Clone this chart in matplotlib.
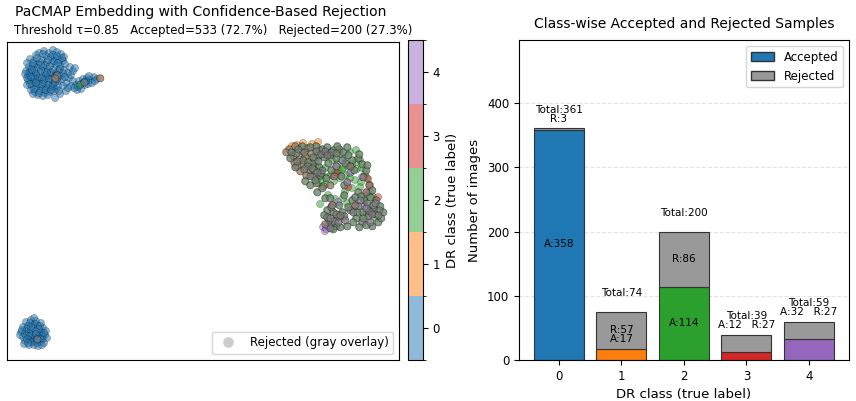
import numpy as np
import matplotlib.pyplot as plt
from matplotlib.colors import ListedColormap, BoundaryNorm
from matplotlib.lines import Line2D
from matplotlib.patches import Patch

# ---- data -------------------------------------------------------------
classes = [0, 1, 2, 3, 4]
accepted = [358, 17, 114, 12, 32]
rejected = [3, 57, 86, 27, 27]
threshold = 0.85

class_colors = ['#1f77b4', '#ff7f0e', '#2ca02c', '#d62728', '#9467bd']

# embedding points (screen-like units, y grows downward)
c0_acc = [
    (39, 53), (44, 51), (49, 53), (53, 50), (57, 52), (61, 54), (64, 57), (46, 56), (51, 57),
    (55, 58), (59, 60), (63, 61), (42, 60), (47, 62), (52, 63), (56, 65), (60, 66), (65, 64),
    (37, 64), (34, 61), (30, 59), (27, 63), (29, 67), (33, 66), (38, 68), (43, 67), (48, 69),
    (53, 70), (26, 71), (31, 72), (35, 71), (40, 73), (45, 72), (50, 74), (56, 73), (59, 71),
    (28, 76), (33, 77), (37, 76), (42, 78), (47, 77), (52, 79), (61, 76), (30, 81), (34, 82),
    (39, 81), (44, 83), (49, 82), (53, 84), (58, 81), (27, 85), (32, 86), (36, 87), (41, 86),
    (46, 88), (51, 87), (56, 89), (31, 90), (35, 92), (40, 91), (45, 93), (50, 92), (38, 95),
    (43, 96), (48, 95), (33, 94), (28, 80), (25, 74), (64, 70), (68, 73), (73, 71), (69, 78),
    (73, 81), (76, 85), (79, 81), (83, 79), (87, 78), (90, 80), (94, 77), (97, 79), (85, 85),
    (81, 89), (77, 90), (88, 84), (71, 86), (66, 91), (60, 94), (55, 98), (66, 83), (62, 79),
    (70, 67), (75, 68), (92, 83), (36, 55), (58, 86), (54, 91),
    (31, 69), (36, 74), (41, 70), (46, 75), (51, 72), (55, 76), (39, 78), (44, 80), (49, 79),
    (35, 79), (30, 84), (38, 84), (43, 89), (48, 85), (53, 86), (34, 89), (39, 93), (46, 90),
    (29, 73), (33, 63), (40, 62), (45, 65), (50, 66), (54, 61), (58, 63), (62, 58), (48, 60),
    (43, 54), (53, 55), (57, 56), (37, 58), (32, 70), (27, 78), (55, 82), (51, 90), (42, 84),
    (47, 73), (36, 83), (31, 77), (41, 65), (60, 69), (57, 79), (63, 73), (65, 77), (71, 75),
    (78, 87), (74, 88), (81, 84), (86, 81), (95, 81), (89, 76), (68, 88), (63, 86), (59, 91),
    # bottom-left blob
    (26, 322), (31, 320), (36, 321), (41, 323), (23, 327), (28, 326), (33, 325), (38, 326),
    (43, 328), (46, 331), (21, 332), (26, 331), (31, 330), (36, 331), (41, 332), (45, 335),
    (23, 337), (28, 336), (33, 335), (38, 337), (43, 339), (25, 341), (30, 340), (35, 341),
    (40, 342), (29, 345), (34, 345), (38, 346), (20, 335), (47, 338), (34, 318), (29, 333),
    (39, 334), (32, 338), (27, 329), (42, 336), (24, 344), (44, 343),
    (30, 323), (35, 324), (40, 326), (25, 334), (30, 336), (35, 338), (40, 339), (27, 339),
    (32, 342), (37, 343), (44, 333), (22, 330), (39, 329), (33, 328), (28, 343), (42, 345),
    (36, 334), (31, 327),
]
c0_rej = [(57, 75), (84, 82), (37, 339)]

c1_acc = [(303, 143), (312, 144), (318, 142), (297, 145), (308, 158), (292, 146)]
c1_rej = [
    (55, 78), (100, 78),
    (289, 149), (295, 146), (301, 151), (307, 148), (293, 156), (299, 159), (305, 156),
    (311, 153), (303, 164), (309, 170), (297, 166), (315, 160), (286, 152), (313, 176),
    (319, 150), (306, 175), (316, 183), (323, 186), (300, 171), (294, 162), (320, 175),
    (330, 185), (325, 224), (331, 224), (338, 217),
]

c2_acc = [
    (80, 85),
    (318, 183), (322, 180), (327, 177), (331, 175), (335, 172), (339, 170), (343, 168),
    (348, 166), (352, 164), (356, 162), (360, 160), (326, 184), (334, 181), (340, 178),
    (346, 175), (351, 172), (357, 169), (362, 168), (365, 174), (368, 179), (361, 182),
    (355, 180), (350, 178), (342, 170), (337, 164), (332, 160), (345, 158), (350, 152),
    (356, 150), (340, 154), (320, 176), (325, 168), (315, 166), (370, 192), (366, 196),
    (373, 197), (345, 191), (352, 188), (360, 187), (364, 215), (376, 218), (347, 203),
    (335, 199), (343, 198), (320, 204), (328, 195),
]
c2_rej = [
    (316, 146), (322, 149), (327, 147), (333, 150), (339, 149), (318, 155), (324, 157),
    (330, 155), (312, 163), (319, 167), (314, 170), (321, 173), (326, 178), (331, 170),
    (336, 158), (343, 152), (348, 155), (352, 160), (358, 158), (345, 163), (354, 170),
    (362, 164), (366, 170), (305, 181), (310, 185), (317, 192), (322, 170), (296, 153),
    (302, 146), (328, 163), (341, 176), (344, 185), (363, 177), (369, 185), (358, 192),
    (352, 200), (358, 206), (364, 200), (370, 197), (376, 200), (362, 212), (368, 216),
    (374, 209), (380, 206), (356, 218), (362, 222), (350, 210), (378, 222), (372, 226),
    (383, 212), (327, 210), (333, 212), (329, 220), (336, 226), (342, 212), (339, 205),
    (324, 215), (333, 229), (347, 226), (325, 198), (330, 198), (295, 167),
    (291, 152), (298, 149), (304, 152), (310, 147), (316, 151), (321, 154), (325, 151),
    (331, 152), (336, 153), (290, 158), (297, 161), (303, 160), (308, 162), (313, 157),
    (318, 161), (307, 166), (312, 168), (317, 172), (304, 169), (310, 176), (315, 180),
    (322, 188), (355, 197), (361, 196), (367, 203), (373, 205), (379, 210), (357, 212),
    (363, 218), (369, 211), (375, 214), (353, 222), (366, 225), (381, 218), (359, 227),
    (331, 207), (336, 214), (327, 217), (344, 216), (334, 221), (340, 227), (330, 228),
    (348, 207), (344, 195), (372, 190), (367, 165), (359, 154), (347, 147), (337, 146),
]

c3_acc = [(337, 173), (348, 187), (367, 178), (370, 185), (378, 197)]
c3_rej = [(334, 176), (350, 166), (366, 192), (355, 205), (372, 214), (340, 215), (332, 205),
          (327, 155)]

c4_acc = [(323, 227), (326, 229), (328, 226), (325, 231), (338, 202), (362, 177), (350, 173),
          (327, 153), (320, 173), (365, 206), (371, 211)]
c4_rej = [(336, 166), (342, 160), (347, 182), (360, 200), (366, 208), (375, 203), (353, 212),
          (345, 220), (338, 222), (330, 218), (370, 222), (378, 215)]

# ---- assemble -----------------------------------------------------------
acc_sets = [c0_acc, c1_acc, c2_acc, c3_acc, c4_acc]
rej_sets = [c0_rej, c1_rej, c2_rej, c3_rej, c4_rej]

xs, ys, labels, is_rej = [], [], [], []
for cls, (acc, rej) in enumerate(zip(acc_sets, rej_sets)):
    for p in acc:
        xs.append(p[0]); ys.append(p[1]); labels.append(cls); is_rej.append(False)
    for p in rej:
        xs.append(p[0]); ys.append(p[1]); labels.append(cls); is_rej.append(True)
xs = np.array(xs, dtype=float)
ys = np.array(ys, dtype=float)
labels = np.array(labels)
is_rej = np.array(is_rej)

n_acc = sum(accepted)
n_rej = sum(rejected)
n_all = n_acc + n_rej
total = [a + r for a, r in zip(accepted, rejected)]

# ---- figure -------------------------------------------------------------
fig = plt.figure(figsize=(8.56, 4.01), dpi=100)
ax1 = fig.add_axes([0.0082, 0.1022, 0.458, 0.793])
cax = fig.add_axes([0.4766, 0.1022, 0.0175, 0.798])
ax2 = fig.add_axes([0.6063, 0.1022, 0.3855, 0.798])

cmap = ListedColormap(class_colors)
norm = BoundaryNorm(np.arange(-0.5, 5.5, 1), cmap.N)

sc = ax1.scatter(xs, ys, c=labels, cmap=cmap, norm=norm, s=26, alpha=0.5,
                 edgecolors='k', linewidths=0.3)
ax1.scatter(xs[is_rej], ys[is_rej], color='gray', s=26, alpha=0.6,
            edgecolors='k', linewidths=0.3)
ax1.set_xlim(7, 399)
ax1.set_ylim(360, 42)
ax1.set_xticks([])
ax1.set_yticks([])

handle = Line2D([0], [0], marker='o', color='w', markerfacecolor='gray', alpha=0.4,
                markersize=8, label='Rejected (gray overlay)')
ax1.legend(handles=[handle], loc='lower right', fontsize=8.5)

fig.text(0.235, 0.970, 'PaCMAP Embedding with Confidence-Based Rejection',
         ha='center', va='center', fontsize=10)
fig.text(0.249, 0.925,
         f'Threshold \u03c4={threshold:.2f}   Accepted={n_acc} ({100*n_acc/n_all:.1f}%)   '
         f'Rejected={n_rej} ({100*n_rej/n_all:.1f}%)',
         ha='center', va='center', fontsize=8.5)

cbar = fig.colorbar(sc, cax=cax, ticks=classes)
cbar.set_label('DR class (true label)', fontsize=9.5)
cbar.ax.tick_params(labelsize=8.5)

# ---- bar chart ----------------------------------------------------------
ax2.bar(classes, accepted, width=0.8, color=class_colors, edgecolor='#333333', linewidth=0.8)
ax2.bar(classes, rejected, width=0.8, bottom=accepted, color='#999999',
        edgecolor='#333333', linewidth=0.8)
ax2.set_ylim(0, max(total) * 1.38)
ax2.set_xticks(classes)
ax2.tick_params(labelsize=8.5)
ax2.yaxis.grid(True, linestyle='--', alpha=0.35)
ax2.set_axisbelow(True)
ax2.set_xlabel('DR class (true label)', fontsize=9.5)
ax2.set_ylabel('Number of images', fontsize=9.5)
ax2.set_title('Class-wise Accepted and Rejected Samples', fontsize=10, pad=9)

fs = 7.5
ax2.text(0, 389, f'Total:{total[0]}', ha='center', va='center', fontsize=fs)
ax2.text(0, 375, f'R:{rejected[0]}', ha='center', va='center', fontsize=fs)
ax2.text(0, 180, f'A:{accepted[0]}', ha='center', va='center', fontsize=fs)

ax2.text(1, 104, f'Total:{total[1]}', ha='center', va='center', fontsize=fs)
ax2.text(1, 46.5, f'R:{rejected[1]}', ha='center', va='center', fontsize=fs)
ax2.text(1, 32.5, f'A:{accepted[1]}', ha='center', va='center', fontsize=fs)

ax2.text(2, 229, f'Total:{total[2]}', ha='center', va='center', fontsize=fs)
ax2.text(2, 158, f'R:{rejected[2]}', ha='center', va='center', fontsize=fs)
ax2.text(2, 58, f'A:{accepted[2]}', ha='center', va='center', fontsize=fs)

ax2.text(3, 68.5, f'Total:{total[3]}', ha='center', va='center', fontsize=fs)
ax2.text(3, 54.5, f'A:{accepted[3]}   R:{rejected[3]}', ha='center', va='center', fontsize=fs)

ax2.text(4, 89.5, f'Total:{total[4]}', ha='center', va='center', fontsize=fs)
ax2.text(4, 75.5, f'A:{accepted[4]}   R:{rejected[4]}', ha='center', va='center', fontsize=fs)

ax2.legend(handles=[Patch(facecolor='#1f77b4', edgecolor='#333333', label='Accepted'),
                    Patch(facecolor='#999999', edgecolor='#333333', label='Rejected')],
           loc='upper right', fontsize=8.5)

fig.savefig('out.png', dpi=100)
